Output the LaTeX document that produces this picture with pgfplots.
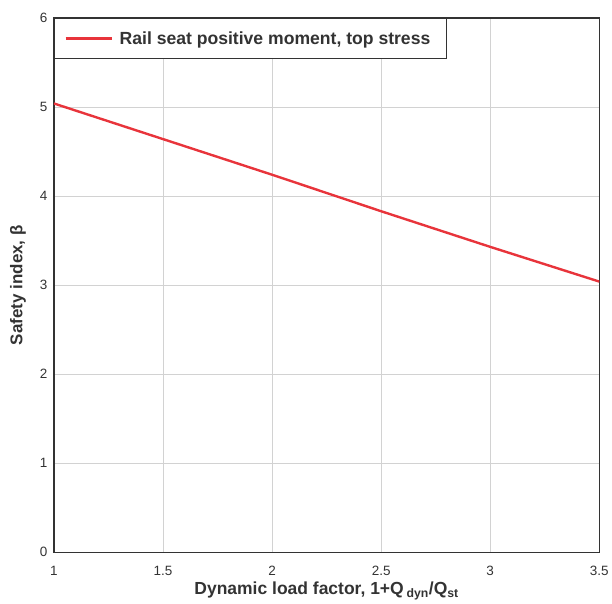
\documentclass[border=0pt]{standalone}
\usepackage{pgfplots}
\pgfplotsset{compat=1.18}
\usepackage{fontspec}
\setmainfont{Liberation Sans}
\definecolor{linered}{HTML}{E8343B}
\definecolor{gridgray}{HTML}{D2D2D2}
\definecolor{axgray}{HTML}{333333}
\begin{document}
\begin{tikzpicture}
\begin{axis}[
  name=main,
  scale only axis,
  width=546pt, height=535pt,
  xmin=1, xmax=3.5, ymin=0, ymax=6,
  xtick={1,1.5,2,2.5,3,3.5},
  ytick={0,1,2,3,4,5,6},
  grid=major,
  grid style={gridgray, line width=1pt},
  axis line style={axgray, line width=1.6pt},
  major tick length=0pt,
  /pgf/number format/assume math mode=true,
  ticklabel style={font=\fontsize{13.5}{15}\selectfont, text=axgray},
  xticklabel style={yshift=-10pt},
  yticklabel style={xshift=-3pt},
  xlabel={\textbf{Dynamic load factor, 1+Q\,\textsubscript{dyn}/Q\textsubscript{st}}},
  ylabel={\textbf{Safety index, β}},
  xlabel style={font=\fontsize{17.5}{19}\selectfont, text=axgray,
    at={(axis description cs:0.5,-0.0725)}, anchor=center},
  ylabel style={font=\fontsize{17}{19}\selectfont, text=axgray,
    at={(axis description cs:-0.066,0.5)}, anchor=center},
  legend style={at={(0,1)}, anchor=north west, draw=axgray, line width=0.8pt,
    font=\fontsize{17.6}{19}\selectfont\bfseries, text=axgray,
    inner xsep=10pt, inner ysep=11pt,
    nodes={inner xsep=6pt}},
  legend cell align=left,
  legend image code/.code={\path (0pt,0pt) -- (47pt,0pt);\draw[#1, line width=2.4pt] (1pt,0pt) -- (43pt,0pt);},
]
\addplot[linered, line width=2.4pt] coordinates {
  (1,5.04) (1.5,4.64) (2,4.24) (2.5,3.83) (3,3.43) (3.5,3.04)
};
\addlegendentry{Rail seat positive moment, top stress}
\end{axis}
\path ([xshift=-54pt,yshift=-48pt]main.south west) rectangle ([xshift=11pt,yshift=18pt]main.north east);
\end{tikzpicture}
\end{document}
